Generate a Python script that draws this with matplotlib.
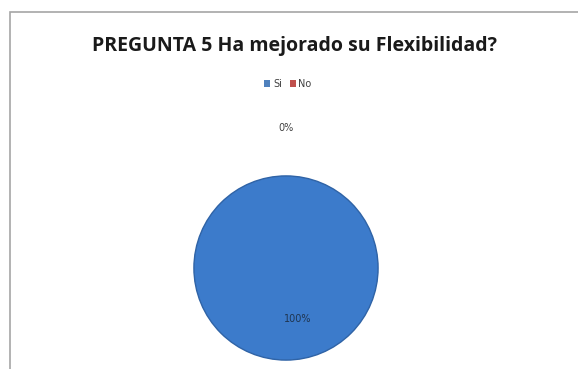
import matplotlib.pyplot as plt
from matplotlib.patches import Rectangle, Patch, Circle
import numpy as np

categorias = ["Si", "No"]
valores = [100, 0]
colores = ["#3c7bcb", "#c0504d"]

fig = plt.figure(figsize=(5.78, 3.69), dpi=100)
fig.patch.set_facecolor("white")

# marco del grafico
fig.patches.append(Rectangle((10 / 578, -0.1), 1.2, (369 - 12) / 369 + 0.1,
                             transform=fig.transFigure, fill=False,
                             edgecolor="#a6a6a6", linewidth=1.2))

fig.text(295 / 578, 1 - 46 / 369, "PREGUNTA 5 Ha mejorado su Flexibilidad?",
         ha="center", va="center", fontsize=14, fontweight="bold",
         family="Open Sans", color="#1a1a1a")

# pie: centro (286, 268), radio ~93 px
r = 93
ax = fig.add_axes([(286 - r) / 578, 1 - (268 + r) / 369, 2 * r / 578, 2 * r / 369])
wedges, textos, pcts = ax.pie(valores, colors=colores, startangle=90,
                              counterclock=False, autopct="%1.0f%%",
                              pctdistance=0.55,
                              wedgeprops=dict(linewidth=0))
# borde del circulo sin la linea radial del sector vacio
ax.add_patch(Circle((0, 0), 1, fill=False, edgecolor="#2f63a6", linewidth=1.0))
for t in pcts:
    t.set_fontsize(7)
    t.set_color("#1f3550")
# etiqueta del 0% fuera del pie
x, y = pcts[1].get_position()
d = np.hypot(x, y)
pcts[1].set_position((x / d * 1.52, y / d * 1.52))
pcts[1].set_color("#404040")
x, y = pcts[0].get_position()
pcts[0].set_position((x + 0.13, y))
ax.set_aspect("auto")
ax.set_xlim(-1.01, 1.01)
ax.set_ylim(-1.01, 1.01)

handles = [Patch(facecolor=c, label=n) for c, n in zip(["#4f81bd", "#c0504d"], categorias)]
fig.legend(handles=handles, loc="center", bbox_to_anchor=(288 / 578, 1 - 84 / 369),
           ncol=2, frameon=False, fontsize=7, handlelength=0.6, handleheight=0.6,
           handletextpad=0.3, columnspacing=0.8, labelcolor="#404040")

fig.savefig("out.png", dpi=100)
